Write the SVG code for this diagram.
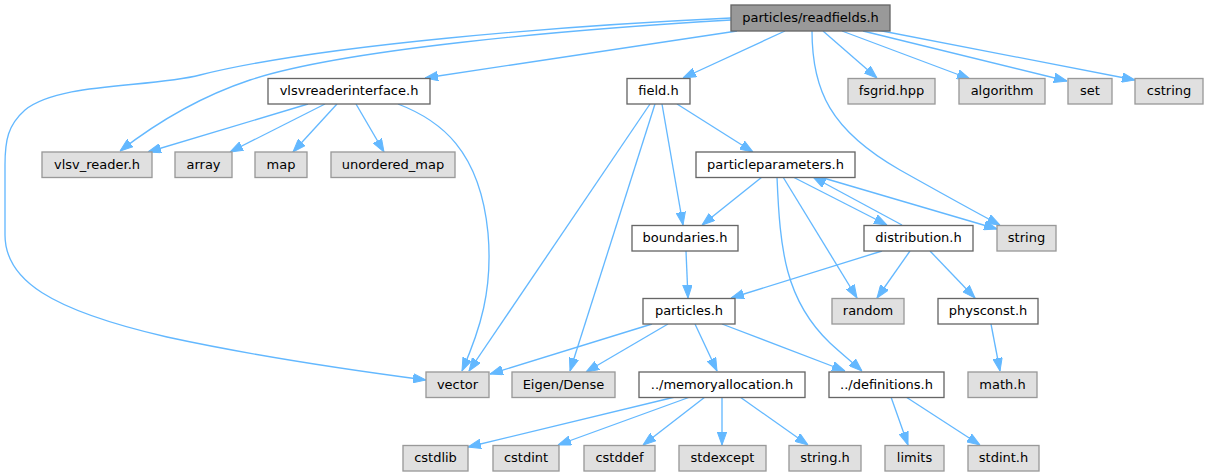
<svg xmlns="http://www.w3.org/2000/svg" width="1208" height="476" viewBox="0 0 1208 476">
<style>
  .n rect{stroke-width:1.33}
  .w rect{fill:#ffffff;stroke:#666666}
  .g rect{fill:#e0e0e0;stroke:#999999}
  .r rect{fill:#999999;stroke:#666666}
  text{font-family:"DejaVu Sans","Liberation Sans",sans-serif;font-size:13px;fill:#000000;text-anchor:middle}
  .e path{fill:none;stroke:#63b8ff;stroke-width:1.33;marker-end:url(#ah)}
</style>
<defs>
  <marker id="ah" viewBox="0 0 13 10" refX="13" refY="5" markerWidth="13" markerHeight="10" orient="auto" markerUnits="userSpaceOnUse">
    <path d="M0,0.3 L13,5 L0,9.7 Z" fill="#63b8ff" stroke="#63b8ff" stroke-width="1"/>
  </marker>
</defs>
<rect width="1208" height="476" fill="#ffffff"/>
<g id="edges" class="e">
  <path d="M737,31 L425,78"/>
  <path d="M731,18 C 560,26 320,45 200,75 C 150,88 60,82 25,110 C 8,125 5,140 5,165 L5,235 C 5,280 50,310 167,337 C 250,355 350,370 426,380"/>
  <path d="M731,20 C 560,30 340,50 250,80 C 205,95 160,120 120,151"/>
  <path d="M785,31 L683,78"/>
  <path d="M823,31 L877,78"/>
  <path d="M842,31 L970,79"/>
  <path d="M863,31 L1067,81"/>
  <path d="M877,30 L1135,80"/>
  <path d="M812,31 C 812,90 830,130 900,170 C 950,198 975,212 1000,225"/>
  <path d="M308,104 L148,152"/>
  <path d="M325,104 L230,152"/>
  <path d="M337,104 L293,152"/>
  <path d="M356,104 L384,152"/>
  <path d="M398,104 C 440,120 480,150 488,233 C 493,290 480,330 462,371"/>
  <path d="M677,104 L753,152"/>
  <path d="M662,104 L683,225"/>
  <path d="M650,104 L469,371"/>
  <path d="M655,104 L570,371"/>
  <path d="M762,177 L702,225"/>
  <path d="M793,177 L887,225"/>
  <path d="M820,177 L997,229"/>
  <path d="M783,177 L857,298"/>
  <path d="M777,177 C 780,250 785,300 830,343 C 843,355 852,362 862,371"/>
  <path d="M902,225 L813,177"/>
  <path d="M882,251 L731,298"/>
  <path d="M910,251 L877,298"/>
  <path d="M930,251 L975,298"/>
  <path d="M686,251 L688,298"/>
  <path d="M652,324 L490,374"/>
  <path d="M668,324 L586,372"/>
  <path d="M695,324 L717,371"/>
  <path d="M722,324 L845,371"/>
  <path d="M675,397 L468,447"/>
  <path d="M690,397 L558,445"/>
  <path d="M705,397 L643,445"/>
  <path d="M722,397 L722,445"/>
  <path d="M740,397 L808,445"/>
  <path d="M891,397 L908,445"/>
  <path d="M906,397 L980,445"/>
  <path d="M991,324 L1000,371"/>
</g>
<g id="n_root" class="n r"><rect x="731" y="5" width="159" height="26"/><text x="810.5" y="21.5">particles/readfields.h</text></g>
<g id="n_vlsvreaderinterface" class="n w"><rect x="268" y="78.5" width="162" height="25.5"/><text x="349" y="95">vlsvreaderinterface.h</text></g>
<g id="n_field" class="n w"><rect x="627" y="78.5" width="63" height="25.5"/><text x="658.5" y="95">field.h</text></g>
<g id="n_fsgrid" class="n g"><rect x="848" y="78.5" width="87" height="25.5"/><text x="891.5" y="95">fsgrid.hpp</text></g>
<g id="n_algorithm" class="n g"><rect x="959" y="78.5" width="86" height="25.5"/><text x="1002" y="95">algorithm</text></g>
<g id="n_set" class="n g"><rect x="1068" y="78.5" width="44" height="25.5"/><text x="1090" y="95">set</text></g>
<g id="n_cstring" class="n g"><rect x="1135" y="78.5" width="68" height="25.5"/><text x="1169" y="95">cstring</text></g>
<g id="n_vlsv_reader" class="n g"><rect x="42" y="152" width="110" height="25.5"/><text x="97" y="168.5">vlsv_reader.h</text></g>
<g id="n_array" class="n g"><rect x="175" y="152" width="57" height="25.5"/><text x="203.5" y="168.5">array</text></g>
<g id="n_map" class="n g"><rect x="255" y="152" width="52" height="25.5"/><text x="281" y="168.5">map</text></g>
<g id="n_unordered_map" class="n g"><rect x="331" y="152" width="124" height="25.5"/><text x="393" y="168.5">unordered_map</text></g>
<g id="n_particleparameters" class="n w"><rect x="696" y="152" width="159" height="25.5"/><text x="775.5" y="168.5">particleparameters.h</text></g>
<g id="n_boundaries" class="n w"><rect x="632" y="225.5" width="106" height="25.5"/><text x="685" y="242">boundaries.h</text></g>
<g id="n_distribution" class="n w"><rect x="864" y="225.5" width="109" height="25.5"/><text x="918.5" y="242">distribution.h</text></g>
<g id="n_string" class="n g"><rect x="997" y="225.5" width="59" height="25.5"/><text x="1026.5" y="242">string</text></g>
<g id="n_particles" class="n w"><rect x="643" y="298.5" width="92" height="25.5"/><text x="689" y="315">particles.h</text></g>
<g id="n_random" class="n g"><rect x="832" y="298.5" width="72" height="25.5"/><text x="868" y="315">random</text></g>
<g id="n_physconst" class="n w"><rect x="938" y="298.5" width="100" height="25.5"/><text x="988" y="315">physconst.h</text></g>
<g id="n_vector" class="n g"><rect x="426" y="372" width="63" height="25.5"/><text x="457.5" y="388.5">vector</text></g>
<g id="n_eigen" class="n g"><rect x="512" y="372" width="103" height="25.5"/><text x="563.5" y="388.5">Eigen/Dense</text></g>
<g id="n_memoryallocation" class="n w"><rect x="639" y="372" width="166" height="25.5"/><text x="722" y="388.5">../memoryallocation.h</text></g>
<g id="n_definitions" class="n w"><rect x="829" y="372" width="115" height="25.5"/><text x="886.5" y="388.5">../definitions.h</text></g>
<g id="n_math" class="n g"><rect x="968" y="372" width="69" height="25.5"/><text x="1002.5" y="388.5">math.h</text></g>
<g id="n_cstdlib" class="n g"><rect x="403" y="445.5" width="65" height="25.5"/><text x="435.5" y="462">cstdlib</text></g>
<g id="n_cstdint" class="n g"><rect x="493" y="445.5" width="66" height="25.5"/><text x="526" y="462">cstdint</text></g>
<g id="n_cstddef" class="n g"><rect x="584" y="445.5" width="71" height="25.5"/><text x="619.5" y="462">cstddef</text></g>
<g id="n_stdexcept" class="n g"><rect x="679" y="445.5" width="87" height="25.5"/><text x="722.5" y="462">stdexcept</text></g>
<g id="n_string_h" class="n g"><rect x="789" y="445.5" width="72" height="25.5"/><text x="825" y="462">string.h</text></g>
<g id="n_limits" class="n g"><rect x="885" y="445.5" width="59" height="25.5"/><text x="914.5" y="462">limits</text></g>
<g id="n_stdint" class="n g"><rect x="968" y="445.5" width="71" height="25.5"/><text x="1003.5" y="462">stdint.h</text></g>
</svg>
